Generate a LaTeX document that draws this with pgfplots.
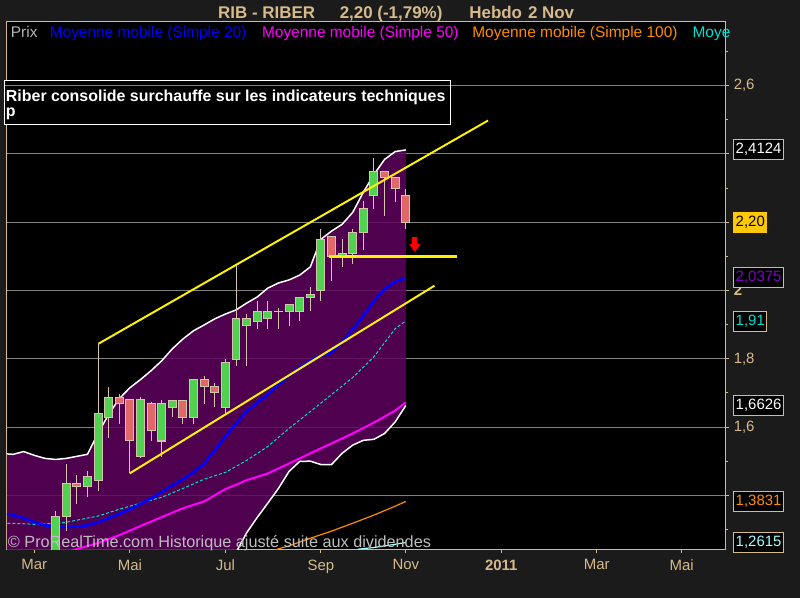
\documentclass[border=0pt]{standalone}
\usepackage{fontspec}
\setmainfont{Liberation Sans}
\usepackage{pgfplots}
\pgfplotsset{compat=1.18}
\usepackage{pgfplotstable}
\usepgfplotslibrary{fillbetween}
\usetikzlibrary{arrows.meta}

\definecolor{bgout}{RGB}{27,27,27}
\definecolor{tanx}{RGB}{214,186,140}
\definecolor{gridc}{RGB}{128,128,128}
\definecolor{bandc}{RGB}{96,0,96}
\definecolor{cup}{RGB}{80,210,80}
\definecolor{cdn}{RGB}{224,104,104}
\definecolor{wick}{RGB}{212,196,170}
\definecolor{maA}{RGB}{0,0,255}
\definecolor{maB}{RGB}{255,0,255}
\definecolor{maC}{RGB}{255,140,0}
\definecolor{maD}{RGB}{0,224,208}
\definecolor{lcyan}{RGB}{160,255,255}
\definecolor{bbmid}{RGB}{128,0,200}
\definecolor{gold}{RGB}{255,200,0}
\definecolor{wm}{RGB}{190,190,190}
\definecolor{prix}{RGB}{180,180,180}

\pgfplotsset{candle/.style={draw=none, mark=none, forget plot,
    error bars/.cd, y dir=both, y explicit, error mark=none}}

% weekly candles, k = week index (0 = 1 Mar 2010 ... 33 = 1 Nov 2010)
\pgfplotstableread{
k o h l c
0 1.200 1.355 1.180 1.339
1 1.339 1.493 1.296 1.435
3 1.425 1.472 1.396 1.455
4 1.443 1.844 1.413 1.639
5 1.629 1.717 1.569 1.687
8 1.513 1.688 1.510 1.680
10 1.559 1.679 1.513 1.668
11 1.658 1.679 1.629 1.679
13 1.629 1.738 1.608 1.738
16 1.658 1.800 1.639 1.790
17 1.798 2.072 1.778 1.919
18 1.897 1.931 1.778 1.919
19 1.910 1.969 1.888 1.939
20 1.919 1.969 1.888 1.939
21 1.939 1.949 1.888 1.939
22 1.939 1.960 1.897 1.960
23 1.939 1.980 1.910 1.980
24 1.979 2.009 1.939 1.989
25 1.999 2.180 1.968 2.150
27 2.100 2.150 2.069 2.109
28 2.109 2.180 2.077 2.170
29 2.170 2.262 2.119 2.240
30 2.279 2.389 2.240 2.348
}\candleup

\pgfplotstableread{
k o h l c
2 1.435 1.458 1.375 1.425
6 1.687 1.698 1.608 1.668
7 1.680 1.680 1.464 1.560
9 1.668 1.674 1.559 1.591
12 1.679 1.679 1.608 1.629
14 1.738 1.750 1.668 1.720
15 1.720 1.730 1.658 1.700
26 2.158 2.160 2.029 2.100
31 2.348 2.348 2.218 2.331
32 2.331 2.331 2.259 2.298
33 2.279 2.298 2.180 2.200
}\candledn

% Bollinger bands and simple MA 20
\pgfplotstableread{
k up lo sma
-5 1.522 1.170 1.346
-4 1.520 1.164 1.342
-3 1.528 1.138 1.333
-2 1.517 1.125 1.321
-1 1.508 1.116 1.312
0 1.505 1.111 1.308
1 1.508 1.106 1.307
2 1.514 1.102 1.308
3 1.520 1.104 1.312
4 1.581 1.061 1.321
5 1.637 1.029 1.333
6 1.683 1.007 1.345
7 1.715 1.003 1.359
8 1.739 1.009 1.374
9 1.765 1.017 1.391
10 1.794 1.024 1.409
11 1.829 1.029 1.429
12 1.858 1.036 1.447
13 1.882 1.052 1.467
14 1.899 1.087 1.493
15 1.917 1.145 1.531
16 1.931 1.200 1.572
17 1.943 1.232 1.610
18 1.963 1.290 1.645
19 1.981 1.335 1.672
20 2.007 1.377 1.695
21 2.022 1.420 1.724
22 2.031 1.470 1.750
23 2.045 1.499 1.774
24 2.069 1.500 1.794
25 2.150 1.490 1.809
26 2.174 1.490 1.817
27 2.194 1.523 1.850
28 2.229 1.547 1.885
29 2.288 1.561 1.926
30 2.340 1.564 1.969
31 2.384 1.581 2.004
32 2.407 1.615 2.025
33 2.412 1.663 2.037
}\bands

\pgfplotstableread{
k v
-5 1.318
-4 1.318
-2 1.315
0 1.318
1 1.321
2 1.327
4 1.339
6 1.359
8 1.377
10 1.394
12 1.420
14 1.447
16 1.467
18 1.502
20 1.543
22 1.596
24 1.645
26 1.695
28 1.745
30 1.806
32 1.888
33 1.911
}\maturq

\pgfplotstableread{
k v
0 1.222
2 1.242
4 1.260
6 1.283
8 1.310
10 1.336
12 1.362
14 1.382
16 1.418
18 1.444
20 1.464
22 1.493
24 1.523
26 1.552
28 1.581
30 1.613
32 1.648
33 1.672
}\mafifty

\pgfplotstableread{
k v
20 1.232
21 1.243
22 1.252
24 1.274
26 1.295
28 1.318
30 1.342
32 1.368
33 1.382
}\mahundred

\pgfplotstableread{
k v
28.5 1.242
30 1.247
31.5 1.254
33 1.2615
}\malight

\newcommand\px[1]{\fontsize{#1}{#1}\selectfont}

\begin{document}
\pagecolor{bgout}
\begin{tikzpicture}[x=1pt,y=1pt,
  vbox/.style={anchor=west, xshift=8pt, fill=black, draw=tanx, line width=1pt,
               inner xsep=2pt, inner ysep=0pt, minimum height=20pt, font=\px{15}},
  lbl/.style={anchor=base west, inner sep=0pt},
  ]
\path (0,0) rectangle (800,600);

\begin{axis}[
  at={(4pt,49pt)}, anchor=south west,
  width=721pt, height=529pt, scale only axis,
  xmin=-4.6, xmax=63.1, ymin=1.2423, ymax=2.7869,
  axis background/.style={fill=black},
  axis line style={tanx, line width=1pt},
  clip mode=individual,
  xtick={-2,7,16,25,33,42,51,59},
  xticklabels={Mar,Mai,Jul,Sep,Nov,\textbf{2011},Mar,Mai},
  x tick label style={font=\px{15}, text=tanx, yshift=-3pt},
  ytick={1.4,1.6,1.8,2,2.2,2.4,2.6},
  yticklabels={,{1,6},{1,8},{\textbf{2}},,,{2,6}},
  minor ytick={1.3,1.5,1.7,1.9,2.1,2.3,2.5,2.7},
  xtick pos=lower, ytick pos=right, yticklabel pos=right,
  y tick label style={font=\px{15}, text=tanx, anchor=west, xshift=1pt},
  tick style={tanx, line width=1pt},
  tick align=outside,
  major tick length=4pt, minor tick length=3pt,
  ymajorgrids, major grid style={gridc, line width=1pt},
]
% Bollinger band area
\addplot[draw=none, name path=bu, forget plot] table[x=k,y=up]{\bands};
\addplot[draw=none, name path=bl, forget plot] table[x=k,y=lo]{\bands};
\addplot[fill=bandc, fill opacity=0.83, draw=none] fill between[of=bu and bl];
\addplot[white, line width=1.5pt] table[x=k,y=up]{\bands};
\addplot[white, line width=1.5pt] table[x=k,y=lo]{\bands};

% moving averages
\addplot[maD, line width=1pt, dash pattern=on 3pt off 2pt] table[x=k,y=v]{\maturq};
\addplot[maB, line width=2pt] table[x=k,y=v]{\mafifty};
\addplot[maC, line width=1.2pt] table[x=k,y=v]{\mahundred};
\addplot[lcyan, line width=1.2pt] table[x=k,y=v]{\malight};
\addplot[maA, line width=2.6pt] table[x=k,y=sma]{\bands};

% candles: wicks, then bodies
\addplot[candle, error bar style={draw=wick, line width=1pt}]
  table[x=k, y expr={(\thisrow{h}+\thisrow{l})/2}, y error expr={(\thisrow{h}-\thisrow{l})/2}]{\candleup};
\addplot[candle, error bar style={draw=wick, line width=1pt}]
  table[x=k, y expr={(\thisrow{h}+\thisrow{l})/2}, y error expr={(\thisrow{h}-\thisrow{l})/2}]{\candledn};
\addplot[candle, error bar style={draw=wick, line width=9pt}]
  table[x=k, y expr={(\thisrow{o}+\thisrow{c})/2}, y error expr={abs(\thisrow{c}-\thisrow{o})/2+0.0015}]{\candleup};
\addplot[candle, error bar style={draw=wick, line width=9pt}]
  table[x=k, y expr={(\thisrow{o}+\thisrow{c})/2}, y error expr={abs(\thisrow{c}-\thisrow{o})/2+0.0015}]{\candledn};
\addplot[candle, error bar style={draw=cup, line width=7pt}]
  table[x=k, y expr={(\thisrow{o}+\thisrow{c})/2}, y error expr={max(abs(\thisrow{c}-\thisrow{o})/2-0.0015,0)}]{\candleup};
\addplot[candle, error bar style={draw=cdn, line width=7pt}]
  table[x=k, y expr={(\thisrow{o}+\thisrow{c})/2}, y error expr={max(abs(\thisrow{c}-\thisrow{o})/2-0.0015,0)}]{\candledn};

% drawn trend lines
\addplot[yellow, line width=2pt] coordinates {(4.04,1.844) (40.75,2.498)};
\addplot[yellow, line width=2pt] coordinates {(6.98,1.464) (35.7,2.014)};
\addplot[yellow, line width=2.5pt] coordinates {(25.8,2.099) (37.8,2.099)};
\addplot[red, line width=5pt, -{Triangle[width=11pt,length=8pt]}] coordinates {(33.85,2.158) (33.85,2.113)};

% last values on the price scale
\node[vbox, text=white] at (axis cs:63.1,2.4124) {2,4124};
\node[vbox, fill=gold, draw=gold, text=black] at (axis cs:63.1,2.20) {2,20};
\node[vbox, text=bbmid] at (axis cs:63.1,2.0375) {2,0375};
\node[vbox, text=maD] at (axis cs:63.1,1.91) {1,91};
\node[vbox, text=white] at (axis cs:63.1,1.6626) {1,6626};
\node[vbox, text=maC] at (axis cs:63.1,1.3831) {1,3831};
\node[vbox, text=lcyan] at (axis cs:63.1,1.2615) {1,2615};
\end{axis}

% title
\node[lbl, text=tanx, font=\bfseries\px{17}] at (216,581) {RIB - RIBER};
\node[lbl, text=tanx, font=\bfseries\px{17}] at (338,581) {2,20 (-1,79\%)};
\node[lbl, text=tanx, font=\bfseries\px{17}] at (468,581) {Hebdo\hspace{6pt}2 Nov};

% legend row
\node[lbl, text=prix, font=\px{15.5}] at (8,562) {Prix};
\node[lbl, text=maA, font=\px{15.5}] at (47,562) {Moyenne mobile (Simple 20)};
\node[lbl, text=maB, font=\px{15.5}] at (260,562) {Moyenne mobile (Simple 50)};
\node[lbl, text=maC, font=\px{15.5}] at (471,562) {Moyenne mobile (Simple 100)};
\node[lbl, text=maD, font=\px{15.5}] at (692,562) {Moye};

% comment box
\draw[white, fill=black, line width=1pt] (2,519) rectangle (449,475);
\draw[gridc, line width=1pt] (2.5,514) -- (448.5,514);
\begin{scope}
\clip (2,475.5) rectangle (449,518);
\node[lbl, text=white, font=\bfseries\px{16}] at (3,498) {Riber consolide surchauffe sur les indicateurs techniques};
\node[lbl, text=white, font=\bfseries\px{16}] at (3,483.5) {p};
\end{scope}

% watermark
\node[lbl, text=wm, font=\px{16.3}] at (5,51) {© ProRealTime.com Historique ajusté suite aux dividendes};

\pgfresetboundingbox
\path[use as bounding box] (0,0) rectangle (800,600);
\end{tikzpicture}
\end{document}
